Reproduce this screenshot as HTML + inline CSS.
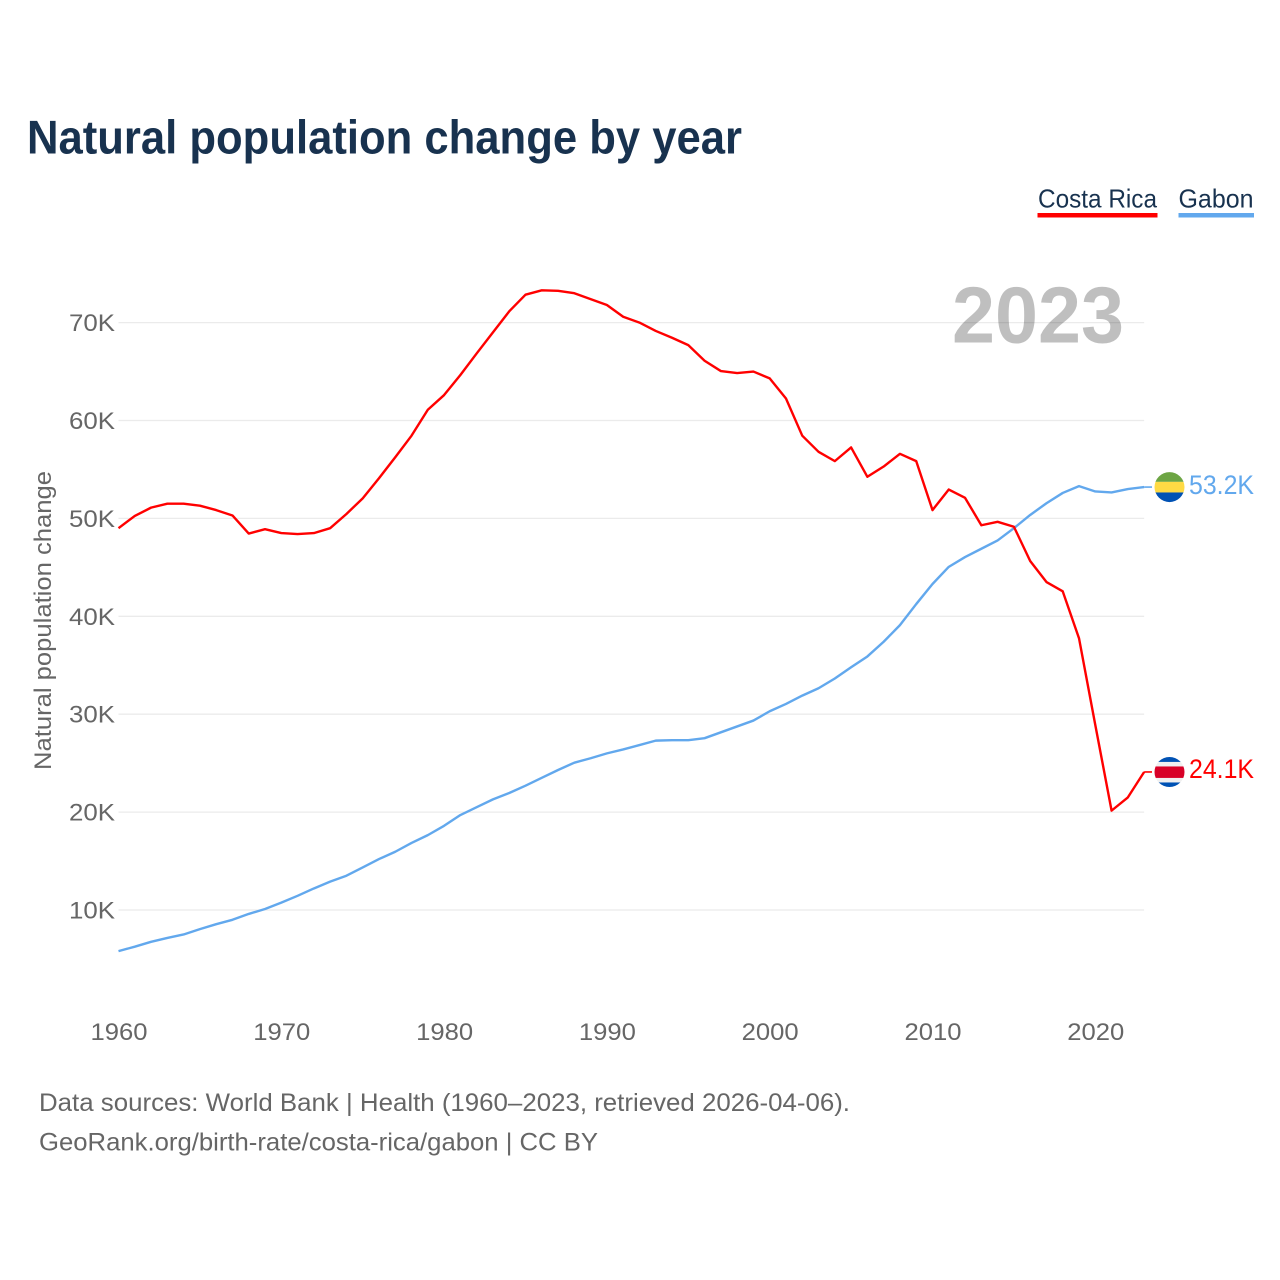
<!DOCTYPE html>
<html lang="en">
<head>
<meta charset="utf-8">
<title>Natural population change by year</title>
<style>
html,body{margin:0;padding:0;background:#fff;width:1280px;height:1280px;overflow:hidden}
svg{display:block}
text{font-family:"Liberation Sans",sans-serif}
</style>
</head>
<body>
<svg id="chart" xmlns="http://www.w3.org/2000/svg" width="1280" height="1280" viewBox="0 0 1280 1280">
  <rect width="1280" height="1280" fill="#ffffff"/>
  <text x="27" y="153.5" font-size="47" font-weight="700" fill="#18324f" textLength="715" lengthAdjust="spacingAndGlyphs">Natural population change by year</text>
  <g>
    <text x="1038" y="207.5" font-size="26" fill="#18324f" textLength="119" lengthAdjust="spacingAndGlyphs">Costa Rica</text>
    <rect x="1037.5" y="213" width="120" height="4.5" fill="#ff0000"/>
  </g>
  <g>
    <text x="1178.5" y="207.5" font-size="26" fill="#18324f" textLength="75" lengthAdjust="spacingAndGlyphs">Gabon</text>
    <rect x="1178.5" y="213" width="75.5" height="4.5" fill="#62a8ed"/>
  </g>
  <text transform="translate(51 770) rotate(-90)" font-size="24" fill="#666666" textLength="299" lengthAdjust="spacingAndGlyphs">Natural population change</text>
  <g id="grid"></g>
  <text x="952" y="342.5" font-size="80" font-weight="700" fill="#000000" fill-opacity="0.25" textLength="172" lengthAdjust="spacingAndGlyphs">2023</text>
  <g id="y-ticks"></g>
  <g id="x-ticks"></g>
  <g id="series"></g>
  <g id="markers"></g>
  <text x="39" y="1111" font-size="25" fill="#666666" textLength="811" lengthAdjust="spacingAndGlyphs">Data sources: World Bank | Health (1960–2023, retrieved 2026-04-06).</text>
  <text x="39" y="1150.5" font-size="25" fill="#666666" textLength="559" lengthAdjust="spacingAndGlyphs">GeoRank.org/birth-rate/costa-rica/gabon | CC BY</text>
</svg>
<script>
const startYear = 1960;
const costaRica = [
  49.0,50.25,51.1,51.5,51.5,51.3,50.85,50.3,48.45,48.9,
  48.5,48.4,48.5,49.0,50.45,52.05,54.1,56.25,58.45,61.1,
  62.6,64.65,66.85,69.0,71.15,72.85,73.3,73.25,73.0,72.4,
  71.8,70.6,70.0,69.15,68.45,67.7,66.1,65.05,64.85,65.0,
  64.3,62.25,58.45,56.8,55.85,57.25,54.25,55.3,56.6,55.85,
  50.85,52.95,52.1,49.3,49.65,49.15,45.65,43.5,42.55,37.75,
  28.9,20.15,21.5,24.1
];
const gabon = [
  5.8,6.25,6.75,7.15,7.5,8.05,8.55,9.0,9.6,10.1,
  10.75,11.45,12.2,12.9,13.5,14.35,15.2,15.95,16.85,17.65,
  18.6,19.7,20.5,21.3,21.95,22.7,23.5,24.3,25.05,25.5,
  26.0,26.4,26.85,27.3,27.35,27.35,27.55,28.15,28.75,29.35,
  30.3,31.05,31.9,32.65,33.65,34.8,35.9,37.4,39.1,41.25,
  43.3,45.05,46.05,46.9,47.75,49.0,50.35,51.55,52.6,53.3,
  52.75,52.65,53.0,53.2
];
const yTickValues = [10,20,30,40,50,60,70];
const xTickYears = [1960,1970,1980,1990,2000,2010,2020];
const valueLabels = ["24.1K","53.2K"];

const NS = "http://www.w3.org/2000/svg";
const X0 = 118.5, XPERYEAR = 16.28;
const Y0 = 1007.9, YPERK = 9.79;
const xScale = year => X0 + (year - startYear) * XPERYEAR;
const yScale = k => Y0 - k * YPERK;
const gridEl = document.getElementById("grid");
const yTicksEl = document.getElementById("y-ticks");
const xTicksEl = document.getElementById("x-ticks");
const seriesEl = document.getElementById("series");
const markersEl = document.getElementById("markers");
const xEnd = xScale(startYear + costaRica.length - 1);

function make(tag, parent, attrs, content) {
  const el = document.createElementNS(NS, tag);
  for (const k in attrs) el.setAttribute(k, attrs[k]);
  if (content !== undefined) el.textContent = content;
  parent.appendChild(el);
  return el;
}

yTickValues.forEach(v => {
  const y = yScale(v);
  const line = make("line", gridEl, {x1: X0, x2: xEnd, y1: y, y2: y, stroke: "#ebebeb", "stroke-width": 1.3});
  
  
  const label = make("text", yTicksEl, {x: 115, y: y + 8.5, "text-anchor": "end", "font-size": 24, fill: "#666666", textLength: 46, lengthAdjust: "spacingAndGlyphs"}, v + "K");
  
  
});

xTickYears.forEach(year => {
  const label = make("text", xTicksEl, {x: xScale(year) + 0.5, y: 1040, "text-anchor": "middle", "font-size": 24, fill: "#666666", textLength: 57, lengthAdjust: "spacingAndGlyphs"}, String(year));
  
  
});

function linePath(values) {
  return values.map((v, i) => (i ? "L" : "M") + xScale(startYear + i).toFixed(2) + " " + yScale(v).toFixed(2)).join(" ");
}

const MARK_X = 1169.5, R = 15;
const LINK_END = 1152;

/* Gabon line and marker */
const gabonLine = make("path", seriesEl, {d: linePath(gabon), fill: "none", stroke: "#62a8ed", "stroke-width": 2.4, "stroke-linejoin": "round"});


/* Costa Rica line and marker */
const costaLine = make("path", seriesEl, {d: linePath(costaRica), fill: "none", stroke: "#ff0000", "stroke-width": 2.4, "stroke-linejoin": "round"});



function flag(parent, cy, id, bands) {
  const clip = make("clipPath", parent, {id: id});
  make("circle", clip, {cx: MARK_X, cy: cy, r: R});
  const g = make("g", parent, {"clip-path": "url(#" + id + ")"});
  bands.forEach(b => make("rect", g, {x: MARK_X - R, y: cy + b[0], width: 2 * R, height: b[1] - b[0], fill: b[2]}));
  return g;
}

const gabonY = yScale(gabon[gabon.length - 1]);
const gabonLink = make("line", markersEl, {x1: xEnd, x2: LINK_END, y1: gabonY, y2: gabonY, stroke: "#62a8ed", "stroke-width": 1.6});


const gabonFlag = flag(markersEl, gabonY, "clip-gabon", [[-16,-5.2,"#6da544"],[-5.2,5.4,"#ffda44"],[5.4,16,"#0052b4"]]);


const gabonValue = make("text", markersEl, {x: 1189, y: gabonY + 7, "font-size": 27, fill: "#62a8ed", textLength: 65, lengthAdjust: "spacingAndGlyphs"}, valueLabels[1]);



const costaY = yScale(costaRica[costaRica.length - 1]);
const costaLink = make("line", markersEl, {x1: xEnd, x2: LINK_END, y1: costaY, y2: costaY, stroke: "#ff0000", "stroke-width": 1.6});


const costaFlag = flag(markersEl, costaY, "clip-costa", [[-16,-10,"#0052b4"],[-10,-5.5,"#f0f0f0"],[-5.5,6,"#d80027"],[6,10.5,"#f0f0f0"],[10.5,16,"#0052b4"]]);


const costaValue = make("text", markersEl, {x: 1189, y: costaY + 6, "font-size": 27, fill: "#ff0000", textLength: 65, lengthAdjust: "spacingAndGlyphs"}, valueLabels[0]);


</script>
</body>
</html>
